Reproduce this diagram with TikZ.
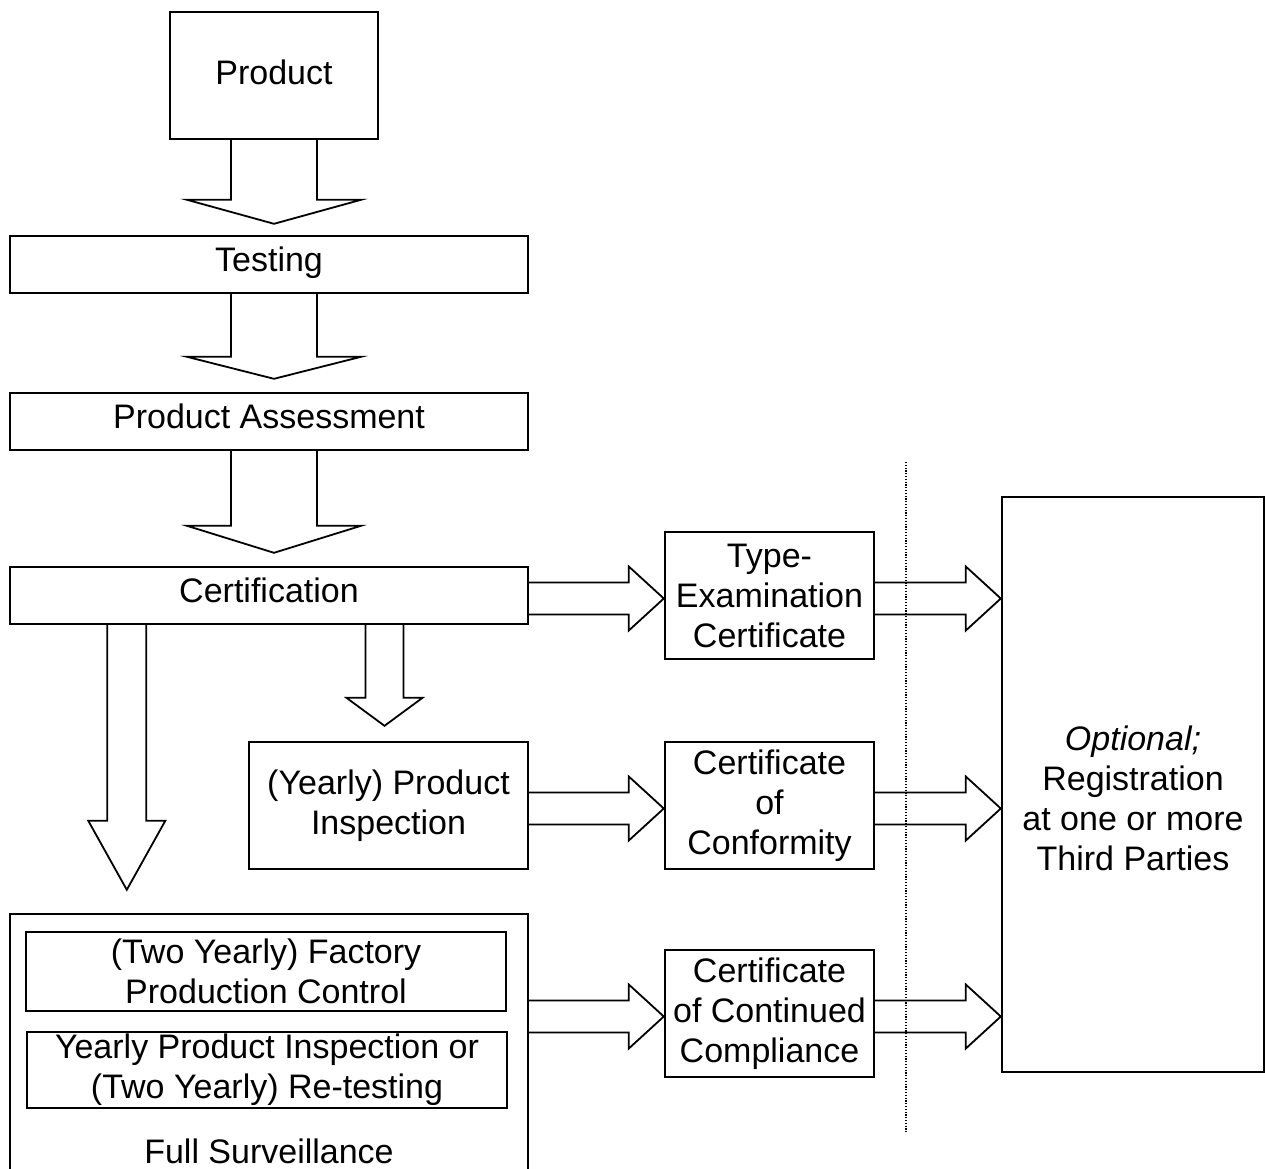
\documentclass[tikz,border=0pt]{standalone}
\usepackage{fontspec}
\setmainfont{Liberation Sans}
\usetikzlibrary{calc}

\newcommand{\boxfont}{\fontsize{34}{40}\selectfont}
% block arrows: tail, tip, shaft half width, head half width, head length
\newcommand{\downblk}[5]{\draw[blk] let \p1=(#1), \p2=(#2) in
  (\x1-#3,\y1) -- (\x1-#3,\y2+#5) -- (\x1-#4,\y2+#5) -- (\x1,\y2) -- (\x1+#4,\y2+#5) -- (\x1+#3,\y2+#5) -- (\x1+#3,\y1);}
\newcommand{\rightblk}[2]{\draw[blk] let \p1=(#1), \p2=(#2) in
  (\x1,\y2+16pt) -- (\x2-35pt,\y2+16pt) -- (\x2-35pt,\y2+32pt) -- (\x2,\y2) -- (\x2-35pt,\y2-32pt) -- (\x2-35pt,\y2-16pt) -- (\x1,\y2-16pt);}

\tikzset{
  box/.style={draw, line width=2.4pt, inner sep=0pt, align=center, font=\boxfont},
  oneline/.style={text height=21pt, text depth=8pt},
  blk/.style={line width=1.8pt, line join=miter},
}

\begin{document}
\begin{tikzpicture}[x=1pt,y=-1pt]
		\useasboundingbox (0,0) rectangle (1265,1168);
		\clip (0,0) rectangle (1265,1168);
		% left column
		\node[box, text height=25pt, text depth=7pt, minimum width=208pt, minimum height=127pt] (prod) at (274,75.5) {Product};
		\node[box, oneline, minimum width=518pt, minimum height=57pt] (test) at (269,264.5) {Testing};
		\node[box, oneline, minimum width=518pt, minimum height=57pt] (pa) at (269,421.5) {Product Assessment};
		\node[box, oneline, minimum width=518pt, minimum height=57pt] (cert) at (269,595.5) {Certification};
		\node[box, minimum width=279pt, minimum height=127pt] (insp) at (388.5,805.5) {(Yearly) Product\\Inspection};
		\node[box, minimum width=518pt, minimum height=280pt] (fs) at (269,1054) {};
		\node[box, line width=2pt, minimum width=480pt, minimum height=79pt] (fpc) at (266,971.5) {(Two Yearly) Factory\\Production Control};
		\node[box, line width=2pt, minimum width=480pt, minimum height=76pt] (ypi) at (267,1070) {Yearly Product Inspection or\\(Two Yearly) Re-testing};
		\node[font=\boxfont] (fstext) at (269,1151) {Full Surveillance};
		% certificates
		\node[box, minimum width=209pt, minimum height=127pt] (tec) at (769.5,595.5) {Type-\\Examination\\Certificate};
		\node[box, minimum width=209pt, minimum height=127pt] (coc) at (769.5,805.5) {Certificate\\of\\Conformity};
		\node[box, minimum width=209pt, minimum height=127pt] (ccc) at (769.5,1013.5) {Certificate\\of Continued\\Compliance};
		% third parties
		\node[box, minimum width=262pt, minimum height=575pt] (reg) at (1133,784.5) {};
		\node[font=\boxfont, align=center] (regtext) at ($(reg.center)+(0,14)$) {\textit{Optional;}\\Registration\\at one or more\\Third Parties};
		\coordinate (dtop) at (906,462);
		\coordinate (dbot) at (906,1132);
		\draw[line width=1.2pt, dash pattern=on 1.2pt off 1.6pt] (dtop) -- (dbot);
		% arrows
		\downblk{prod.south}{$(test.north)+(0,-11)$}{43pt}{87pt}{24pt}
		\downblk{prod.south |- test.south}{$(pa.north)+(0,-13)$}{43pt}{87pt}{22pt}
		\downblk{prod.south |- pa.south}{$(cert.north)+(0,-13)$}{43pt}{87pt}{27pt}
		\downblk{$(insp.north |- cert.south)+(-4,0)$}{$(insp.north)+(0,-15)$}{19pt}{38pt}{28pt}
		\downblk{$(cert.south west)+(118,0)$}{$(fs.north)+(0,-23)$}{19.5pt}{38.5pt}{69pt}
		\rightblk{cert.east}{$(tec.west)+(0,3)$}
		\rightblk{tec.east}{$(reg.west |- tec.east)+(0,3)$}
		\rightblk{insp.east}{$(coc.west)+(0,3)$}
		\rightblk{coc.east}{$(reg.west |- coc.east)+(0,3)$}
		\rightblk{fs.east}{$(ccc.west)+(0,3)$}
		\rightblk{ccc.east}{$(reg.west |- ccc.east)+(0,3)$}
\end{tikzpicture}
\end{document}
